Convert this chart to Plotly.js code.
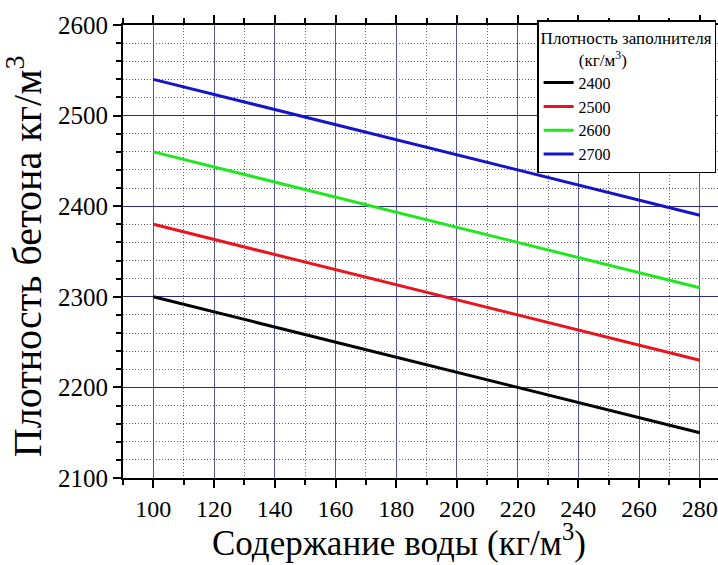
<!DOCTYPE html>
<html>
<head>
<meta charset="utf-8">
<script src="https://cdn.plot.ly/plotly-3.0.1.min.js"></script>
<style>html,body{margin:0;padding:0;background:#fff;}#chart{width:718px;height:565px;}</style>
</head>
<body>
<div id="chart"></div>
<script>
// Data
const water = [100, 280];                 // Содержание воды, кг/м3
const seriesNames = ['2400', '2500', '2600', '2700']; // Плотность заполнителя
const density2400 = [2300, 2150];
const density2500 = [2380, 2230];
const density2600 = [2460, 2310];
const density2700 = [2540, 2390];
const seriesColors = ['#000000', '#e8141e', '#22e622', '#1414c8'];
const xTitle = 'Содержание воды (кг/м<sup>3</sup>)';
const yTitle = 'Плотность бетона кг/м<sup>3</sup>';
const legendTitle = 'Плотность заполнителя<br>\u00a0\u00a0\u00a0\u00a0\u00a0\u00a0\u00a0\u00a0\u00a0(кг/м<sup>3</sup>)';

const seriesValues = [density2400, density2500, density2600, density2700];
const traces = seriesValues.map((vals, i) => ({
  x: water,
  y: vals,
  type: 'scatter',
  mode: 'lines',
  name: seriesNames[i],
  line: {color: seriesColors[i], width: 3}
}));

const font = 'Liberation Serif';

const layout = {
  width: 718,
  height: 565,
  margin: {l: 123, r: 0, t: 25, b: 87},
  paper_bgcolor: '#fff',
  plot_bgcolor: '#fff',
  font: {family: font, color: '#000'},
  showlegend: true,
  xaxis: {
    range: [90, 286],
    tick0: 100,
    dtick: 20,
    ticks: 'outside',
    ticklen: 8,
    tickwidth: 2,
    tickcolor: '#000',
    showline: true,
    linecolor: '#000',
    linewidth: 2,
    mirror: 'ticks',
    showgrid: true,
    gridcolor: '#56569c',
    gridwidth: 1,
    zeroline: false,
    tickfont: {family: font, size: 24, color: '#000'},
    minor: {dtick: 10, tick0: 90, ticks: 'outside', ticklen: 5, tickwidth: 2, tickcolor: '#000', showgrid: true, gridcolor: '#666', griddash: '1px,2px', gridwidth: 1}
  },
  yaxis: {
    range: [2100, 2600],
    tick0: 2100,
    dtick: 100,
    ticks: 'outside',
    ticklen: 8,
    tickwidth: 2,
    tickcolor: '#000',
    showline: true,
    linecolor: '#000',
    linewidth: 2,
    mirror: false,
    showgrid: true,
    gridcolor: '#2a2a80',
    gridwidth: 1,
    zeroline: false,
    tickfont: {family: font, size: 25, color: '#000'},
    minor: {dtick: 20, tick0: 2100, ticks: 'outside', ticklen: 5, tickwidth: 2, tickcolor: '#000', showgrid: true, gridcolor: '#666', griddash: '1px,2px', gridwidth: 1}
  },
  annotations: [
    {text: xTitle, xref: 'paper', yref: 'paper', x: 0.4639, y: -0.1925, xanchor: 'center', yanchor: 'bottom', showarrow: false, font: {family: font, size: 35, color: '#000'}},
    {text: yTitle, xref: 'paper', yref: 'paper', x: -0.12, y: 0.49, xanchor: 'right', yanchor: 'middle', textangle: -90, showarrow: false, font: {family: font, size: 40, color: '#000'}}
  ],
  legend: {
    x: 0.696,
    y: 1.011,
    xanchor: 'left',
    yanchor: 'top',
    bgcolor: '#fff',
    bordercolor: '#000',
    borderwidth: 1.5,
    font: {family: font, size: 16, color: '#000'},
    title: {text: legendTitle, font: {family: font, size: 17, color: '#000'}, side: 'top'},
    tracegroupgap: 0
  }
};

Plotly.newPlot('chart', traces, layout, {displayModeBar: false, staticPlot: true});
</script>
</body>
</html>
